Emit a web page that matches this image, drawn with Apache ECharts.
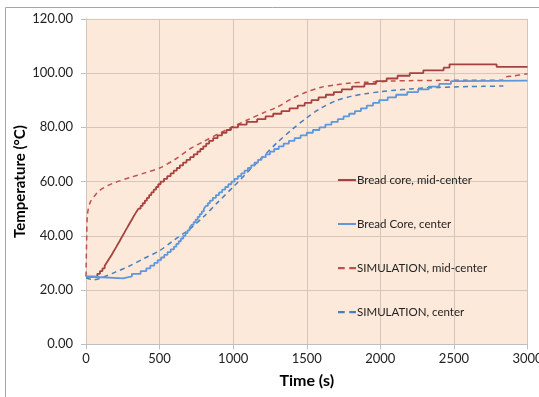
<!DOCTYPE html>
<html>
<head>
<meta charset="utf-8">
<script src="https://cdn.jsdelivr.net/npm/echarts@6/dist/echarts.min.js"></script>
<style>
html,body{margin:0;padding:0;background:#fff;}
#chart{width:539px;height:397px;}
</style>
</head>
<body>
<div id="chart"></div>
<script>
// ---- data ----
const seriesNames = ["Bread core, mid-center", "Bread Core, center", "SIMULATION, mid-center", "SIMULATION, center"];

// measured curves: times (s) at which each recorded temperature level starts (stepped logger data)
const tCoreMid = [0,60,77,95,112,127,139,151,163,175,185,196,207,217,228,238,249,259,269,280,290,301,312,322,333,344,356,371,385,400,414,429,444,460,476,491,507,530,552,575,596,617,638,660,683,708,732,757,777,797,817,837,864,894,924,955,985,1033,1092,1163,1220,1272,1328,1383,1439,1486,1532,1580,1630,1684,1738,1808,1892,1970,2043,2117,2200,2292,2430,2470,2790,3000];
const coreMidCenter = [24.9,25,26,27,28,29,30,31,32,33,34,35,36,37,38,39,40,41,42,43,44,45,46,47,48,49,50,51,52,53,54,55,56,57,58,59,60,61,62,63,64,65,66,67,68,69,70,71,72,73,74,75,76,77,78,79,80,81,82,83,84,85,86,87,88,89,90,91,92,93,94,95,96,97,98,99,100,101,102,103.2,102.3,102.3];

const tCore = [0,40,252,312,371,410,437,464,487,510,532,554,576,598,614,630,645,661,676,690,704,717,731,745,759,773,787,801,814,828,842,862,883,904,925,946,967,988,1009,1032,1055,1077,1100,1123,1145,1169,1193,1221,1250,1279,1310,1343,1379,1417,1458,1500,1542,1586,1627,1668,1711,1750,1788,1827,1868,1908,1950,1992,2050,2107,2183,2257,2329,2400,2480,2540,3000];
const coreCenter = [24.9,24.3,25,26,27,28,29,30,31,32,33,34,35,36,37,38,39,40,41,42,43,44,45,46,47,48,49,50,51,52,53,54,55,56,57,58,59,60,61,62,63,64,65,66,67,68,69,70,71,72,73,74,75,76,77,78,79,80,81,82,83,84,85,86,87,88,89,90,91,92,93,94,95,96,97,97.2,97.2];

const tSimMid = [0,5,10,30,70,100,150,200,300,400,500,600,700,800,900,1000,1100,1200,1300,1400,1500,1600,1700,1800,1900,2000,2100,2200,2400,2600,2830,2850,2900,3000];
const simMidCenter = [25.0,40.0,48.0,52.5,55.5,57.0,58.6,59.7,61.5,63.2,65.0,68.0,71.8,74.8,77.6,80.3,82.8,85.2,87.5,90.6,93.0,94.8,95.7,96.3,96.6,96.8,97.1,97.2,97.3,97.3,97.3,98.5,98.9,99.7];

const tSimCenter = [0,50,100,200,300,400,500,600,700,800,900,1000,1100,1200,1300,1400,1500,1600,1700,1800,1900,2000,2100,2200,2300,2400,2500,2600,2700,2836];
const simCenter = [24.5,23.8,24.4,26.6,29.0,31.8,34.5,38.5,42.3,47.1,52.6,58.0,63.6,69.0,74.4,79.2,83.5,87.2,89.8,91.4,92.4,93.1,93.7,94.1,94.5,94.7,94.9,95.0,95.1,95.2];

const xTicks = {min: 0, max: 3000, interval: 500};
const yTicks = {min: 0, max: 120, interval: 20};

// ---- chart ----
const zip = (xs, ys) => xs.map((x, i) => [x, ys[i]]);
const chart = echarts.init(document.getElementById('chart'), null, {renderer: 'canvas'});
const font = 'Lato, "Open Sans", sans-serif';
const solidIcon = 'path://M0,0h18v2h-18z';
const dashIcon = 'path://M0,0h6v2h-6zM10,0h6v2h-6z';

chart.setOption({
  backgroundColor: '#ffffff',
  animation: false,
  grid: {left: 86, right: 11.5, top: 18.8, bottom: 52.7, show: true, backgroundColor: '#FDE9D9', borderWidth: 0,
         containLabel: false, outerBoundsMode: 'none'},
  graphic: [
    {type: 'line', shape: {x1: 5.5, y1: 7.5, x2: 539, y2: 7.5}, style: {stroke: '#A6A6A6', lineWidth: 1}},
    {type: 'line', shape: {x1: 5.5, y1: 7.5, x2: 5.5, y2: 397}, style: {stroke: '#A6A6A6', lineWidth: 1}}
  ],
  legend: {
    orient: 'vertical', left: 333, top: 169, itemWidth: 18, itemHeight: 12, itemGap: 32,
    symbolKeepAspect: true,
    data: [
      {name: seriesNames[0], icon: solidIcon},
      {name: seriesNames[1], icon: solidIcon},
      {name: seriesNames[2], icon: dashIcon},
      {name: seriesNames[3], icon: dashIcon}
    ],
    textStyle: {fontFamily: font, fontSize: 11.5, color: '#222', padding: [0, 0, 0, -4]}
  },
  xAxis: {
    type: 'value', min: xTicks.min, max: xTicks.max, interval: xTicks.interval,
    name: 'Time (s)', nameLocation: 'middle', nameGap: 29, nameMoveOverlap: false,
    nameTextStyle: {fontFamily: font, fontSize: 16, fontWeight: 'bold', color: '#000'},
    axisLine: {show: true, lineStyle: {color: '#BFBFBF'}},
    axisTick: {show: true, length: 5, lineStyle: {color: '#BFBFBF'}},
    axisLabel: {fontFamily: font, fontSize: 13, color: '#222', margin: 8, formatter: v => String(v)},
    splitLine: {show: true, lineStyle: {color: '#D3C6BB', width: 1}}
  },
  yAxis: {
    type: 'value', min: yTicks.min, max: yTicks.max, interval: yTicks.interval,
    name: 'Temperature (°C)', nameLocation: 'middle', nameGap: 58, nameMoveOverlap: false,
    nameTextStyle: {fontFamily: font, fontSize: 15, fontWeight: 'bold', color: '#000'},
    axisLine: {show: true, lineStyle: {color: '#D3C6BB'}},
    axisTick: {show: true, length: 5, lineStyle: {color: '#BFBFBF'}},
    axisLabel: {fontFamily: font, fontSize: 13, color: '#222', margin: 13, formatter: v => v.toFixed(2)},
    splitLine: {show: true, lineStyle: {color: '#D3C6BB', width: 1}}
  },
  series: [
    {name: seriesNames[0], type: 'line', step: 'end', showSymbol: false, symbol: 'none',
     data: zip(tCoreMid, coreMidCenter), lineStyle: {color: '#A5423F', width: 1.8}, itemStyle: {color: '#A5423F'}, z: 4},
    {name: seriesNames[1], type: 'line', step: 'end', showSymbol: false, symbol: 'none',
     data: zip(tCore, coreCenter), lineStyle: {color: '#5F97DC', width: 1.8}, itemStyle: {color: '#5F97DC'}, z: 4},
    {name: seriesNames[2], type: 'line', smooth: 0.3, showSymbol: false, symbol: 'none',
     data: zip(tSimMid, simMidCenter), lineStyle: {color: '#C0504D', width: 1.5, type: [5, 4]}, itemStyle: {color: '#C0504D'}, z: 3},
    {name: seriesNames[3], type: 'line', smooth: 0.3, showSymbol: false, symbol: 'none',
     data: zip(tSimCenter, simCenter), lineStyle: {color: '#4A7EBB', width: 1.5, type: [5, 4]}, itemStyle: {color: '#4A7EBB'}, z: 3}
  ]
});
</script>
</body>
</html>
